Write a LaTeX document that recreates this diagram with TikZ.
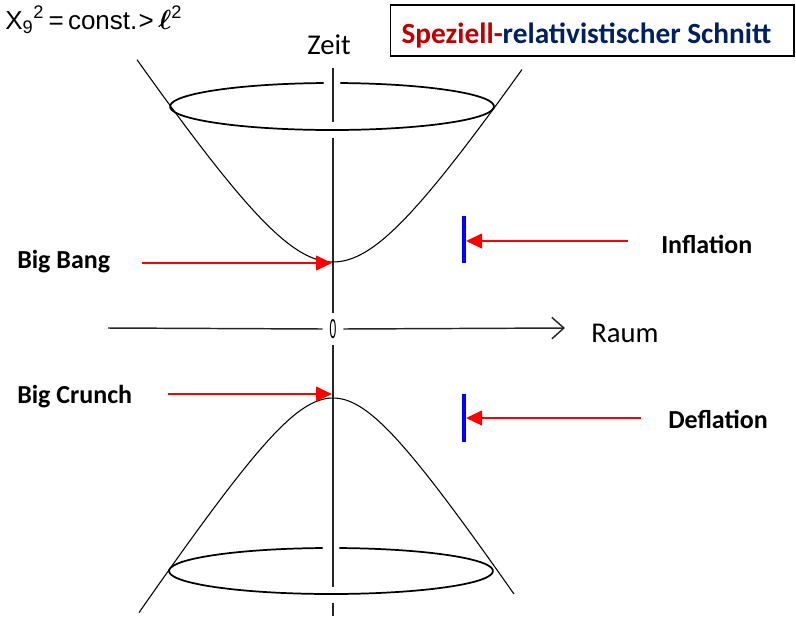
\documentclass[tikz,border=0pt]{standalone}
\usepackage{amsmath,amssymb}
\usepackage{fontspec}
\setmainfont{Carlito}
\newfontfamily\arialfont{Liberation Sans}
\usetikzlibrary{arrows.meta}
\definecolor{spred}{RGB}{192,0,0}
\definecolor{spblue}{RGB}{0,32,96}
\tikzset{
  lbl/.style={font=\fontsize{19.5}{22}\selectfont\bfseries,inner sep=0pt,anchor=base west},
  axlbl/.style={font=\fontsize{21.5}{24}\selectfont,inner sep=0pt},
  ax/.style={line width=1.1pt,draw=black!85},
  cone/.style={line width=1.3pt},
  hyp/.style={line width=0.8pt},
  rar/.style={draw=red,line width=1.5pt,-{Triangle[length=12pt,width=11pt]}},
  wall/.style={draw=blue,line width=3pt},
  ttl/.style={draw,line width=0.9pt,inner xsep=8.25pt,inner ysep=0pt,text height=28.5pt,text depth=9.75pt,anchor=base west,font=\fontsize{22}{26}\selectfont\bfseries}
}

\begin{document}
\begin{tikzpicture}[x=0.75pt,y=-0.75pt]
\useasboundingbox (0,0) rectangle (796,618);

% heading
\node[ttl] (title) at (390,43) {\makebox[286pt][l]{\textcolor{spred}{Speziell-}\textcolor{spblue}{relativistischer Schnitt}}};
\node[anchor=base west,inner sep=0pt,font=\arialfont\fontsize{19.5}{21}\selectfont] (cond) at (5,29) {X\textsubscript{9}\textsuperscript{2}\,=\,const.\kern1pt>\,$\boldsymbol{\ell}$\textsuperscript{2}};

% axes
\node[fill=white,inner sep=0pt,minimum width=15pt,minimum height=24pt,font=\fontsize{22}{22}\selectfont] (zero) at (333,329) {\scalebox{0.45}[1]{0}};
\node[axlbl] (zeit) at (329,44.5) {Zeit};
\node[axlbl,anchor=west] (raum) at (591,333.5) {Raum};
\coordinate (ttop) at (333,68); \coordinate (tback) at (333,122);
\coordinate (tfront) at (333,138); \coordinate (tlow) at (333,587);
\coordinate (tbot) at (333,603); \coordinate (tend) at (333,616);
\coordinate (sleft) at (108,328); \coordinate (sright) at (565,328);
\draw[ax] (ttop) -- (tback); \draw[ax] (tfront) -- (zero.north);
\draw[ax] (zero.south) -- (tlow); \draw[ax] (tbot) -- (tend);
\draw[ax] (sleft) -- (zero.west);
\draw[ax,-{Straight Barb[length=9pt,width=16pt]}] (zero.east) -- (sright);

% light cones
\draw[cone] (332,106.5) ++(273:162 and 23.5) arc[start angle=273,end angle=627,x radius=162,y radius=23.5];
\draw[cone] (331,571) ++(273:162 and 23) arc[start angle=273,end angle=627,x radius=162,y radius=23];
\draw[hyp] plot[domain=-196:189,samples=90,smooth] ({333+\x},{262-150*(sqrt(0.5625+(\x/100)^2)-0.75)});
\draw[hyp] plot[domain=-194:181,samples=90,smooth] ({333+\x},{398+150*(sqrt(0.36+(\x/100)^2)-0.6)});

% left labels
\node[lbl] (bang) at (17,268) {Big Bang};
\node[lbl] (crunch) at (17,403) {Big Crunch};
\coordinate (bangtail) at (142,263); \coordinate (bangtip) at (332,263);
\coordinate (crunchtail) at (168,394); \coordinate (crunchtip) at (332,394);
\draw[rar] (bangtail) -- (bangtip);
\draw[rar] (crunchtail) -- (crunchtip);

% right labels
\node[lbl] (infl) at (661,253) {Inflation};
\node[lbl] (defl) at (668,428) {Deflation};
\coordinate (infltop) at (464,216); \coordinate (inflbot) at (464,263);
\coordinate (defltop) at (464,394); \coordinate (deflbot) at (464,442);
\draw[wall] (infltop) -- (inflbot); \draw[wall] (defltop) -- (deflbot);
\coordinate (infltail) at (628,241); \coordinate (infltip) at (466,241);
\coordinate (defltail) at (641,418); \coordinate (defltip) at (466,418);
\draw[rar] (infltail) -- (infltip);
\draw[rar] (defltail) -- (defltip);
\end{tikzpicture}
\end{document}
